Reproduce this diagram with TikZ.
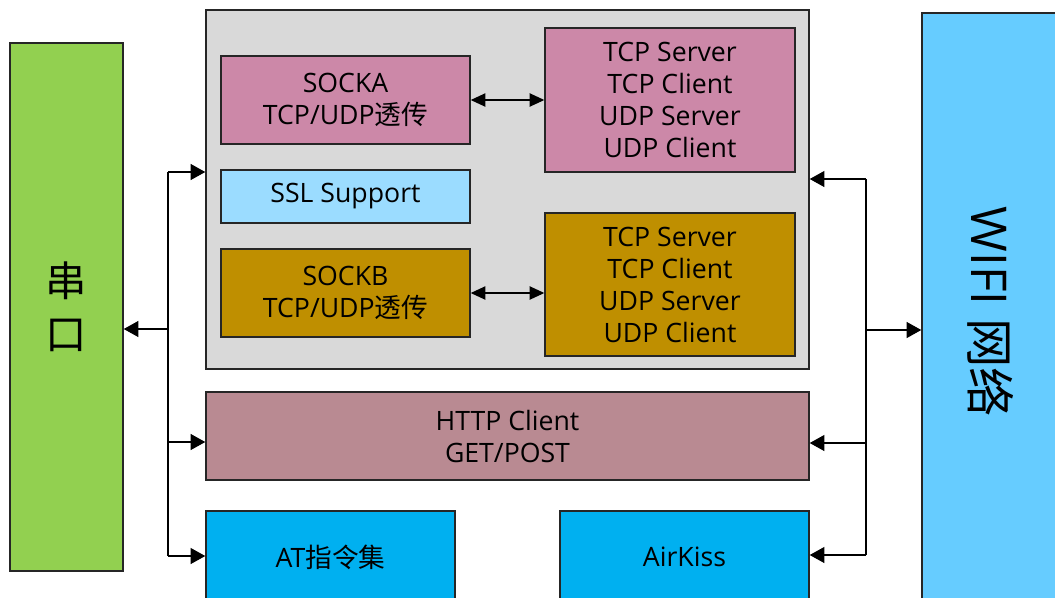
\documentclass[tikz,border=0pt]{standalone}
\usepackage{fontspec}
\setmainfont{Open Sans}
\newfontfamily\cjk{Noto Sans CJK SC}
\usetikzlibrary{arrows.meta}
\definecolor{cGreen}{HTML}{92D050}
\definecolor{cGray}{HTML}{D9D9D9}
\definecolor{cPink}{HTML}{CC88A8}
\definecolor{cSSL}{HTML}{9BDCFF}
\definecolor{cGold}{HTML}{BF8F00}
\definecolor{cHttp}{HTML}{B98A92}
\definecolor{cBlue}{HTML}{00B0F0}
\definecolor{cWifi}{HTML}{66CCFF}
\tikzset{
  bx/.style={draw=black!85, line width=1.1pt, inner sep=0pt, align=center,
    font=\fontsize{20}{24}\selectfont},
  big/.style={-{Triangle[length=11pt,width=12pt]}, line width=0.9pt},
  dbl/.style={{Triangle[length=11pt,width=10pt]}-{Triangle[length=11pt,width=10pt]}, line width=0.9pt},
  bus/.style={line width=0.9pt}
}
% \mybox{name}{style}{x1}{y1}{x2}{y2}{text}
\newcommand\mybox[7]{%
  \node[bx, #2, minimum width={(#5-#3)*0.75pt}, minimum height={(#6-#4)*0.75pt}]
    (#1) at ({(#3+#5)/2},{(#4+#6)/2}) {#7};}
\begin{document}
\begin{tikzpicture}[x=0.75pt,y=-0.75pt]
\useasboundingbox (0,0) rectangle (1055,597);
% outer boxes
\mybox{uart}{fill=cGreen, font=\fontsize{31}{40}\selectfont\cjk}{10}{43}{123}{571}{串\\口}
\mybox{core}{fill=cGray}{206}{10}{809}{369}{}
\mybox{wifi}{fill=cWifi}{922}{13}{1062}{611}{}
\node[font=\fontsize{37}{40}\selectfont, rotate=-90] (wifitext) at (991,312) {WIFI {\cjk 网络}};
% inner boxes
\mybox{socka}{fill=cPink}{221}{56}{470}{144}{SOCKA\\TCP/UDP{\cjk 透传}}
\mybox{ssl}{fill=cSSL}{221}{170}{470}{223}{SSL Support}
\mybox{sockb}{fill=cGold}{221}{249}{470}{337}{SOCKB\\TCP/UDP{\cjk 透传}}
\mybox{tcpa}{fill=cPink}{545}{28}{795}{172}{TCP Server\\TCP Client\\UDP Server\\UDP Client}
\mybox{tcpb}{fill=cGold}{545}{213}{795}{356}{TCP Server\\TCP Client\\UDP Server\\UDP Client}
\mybox{http}{fill=cHttp}{206}{392}{809}{480}{HTTP Client\\GET/POST}
\mybox{at}{fill=cBlue}{206}{511}{455}{603}{AT{\cjk 指令集}}
\mybox{air}{fill=cBlue}{560}{511}{809}{603}{AirKiss}
% internal arrows
\draw[dbl] (socka.east) -- (tcpa.west);
\draw[dbl] (sockb.east) -- (sockb.east -| tcpb.west);
% left bus
\coordinate (l1) at (168,172);
\coordinate (l2) at (168,329);
\coordinate (l3) at (168,442);
\coordinate (l4) at (168,556);
\draw[bus] (l1) -- (l4);
\draw[big] (l1) -- (l1 -| core.west);
\draw[big] (l2) -- (l2 -| uart.east);
\draw[big] (l3) -- (l3 -| http.west);
\draw[big] (l4) -- (l4 -| at.west);
% right bus
\coordinate (r1) at (866,179);
\coordinate (r2) at (866,330);
\coordinate (r3) at (866,443);
\coordinate (r4) at (866,555);
\draw[bus] (r1) -- (r4);
\draw[big] (r1) -- (r1 -| core.east);
\draw[big] (r2) -- (r2 -| wifi.west);
\draw[big] (r3) -- (r3 -| http.east);
\draw[big] (r4) -- (r4 -| air.east);
\end{tikzpicture}
\end{document}
